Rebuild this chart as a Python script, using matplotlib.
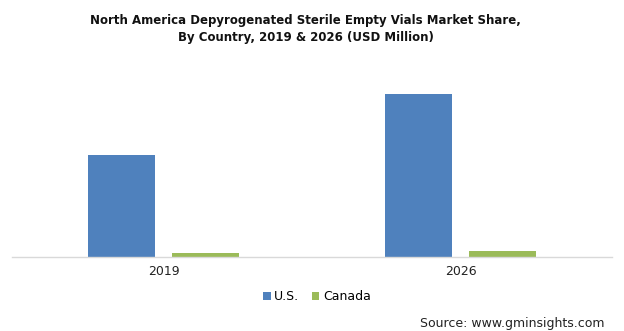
import numpy as np
import matplotlib
matplotlib.use("Agg")
import matplotlib.pyplot as plt

anos = ["2019", "2026"]
us = [102, 163]
canada = [4, 6]
series = ["U.S.", "Canada"]

COR_US = "#4F81BD"
COR_CA = "#9BBB59"

fig = plt.figure(figsize=(6.24, 3.31), dpi=100)
ax = fig.add_axes([12 / 624, 74 / 331, 600 / 624, 172 / 331])

x = np.arange(len(anos))
largura = 0.224
ax.bar(x - 0.142, us, largura, color=COR_US, label=series[0])
ax.bar(x + 0.142, canada, largura, color=COR_CA, label=series[1])

ax.set_xlim(-0.51, 1.51)
ax.set_ylim(0, 172)
ax.set_xticks(x)
ax.set_xticklabels(anos, fontsize=9, color="#222222")
ax.tick_params(axis="x", length=0, pad=6)
ax.set_yticks([])
for lado in ["top", "right", "left"]:
    ax.spines[lado].set_visible(False)
ax.spines["bottom"].set_color("#D9D9D9")
ax.spines["bottom"].set_linewidth(1.0)

fig.text(0.49, 1 - 29 / 331,
         "North America Depyrogenated Sterile Empty Vials Market Share,\nBy Country, 2019 & 2026 (USD Million)",
         ha="center", va="center", fontsize=8.5, fontweight="bold", color="#111111",
         linespacing=1.35)

fig.legend(loc="center", bbox_to_anchor=(317 / 624, 1 - 297 / 331), ncol=2, frameon=False,
           fontsize=9, handlelength=0.6, handleheight=0.6, handletextpad=0.3, columnspacing=1.0)

fig.text(604 / 624, 1 - 323 / 331, "Source: www.gminsights.com", ha="right", va="center",
         fontsize=9, color="#222222")

fig.savefig("out.png", dpi=100)
